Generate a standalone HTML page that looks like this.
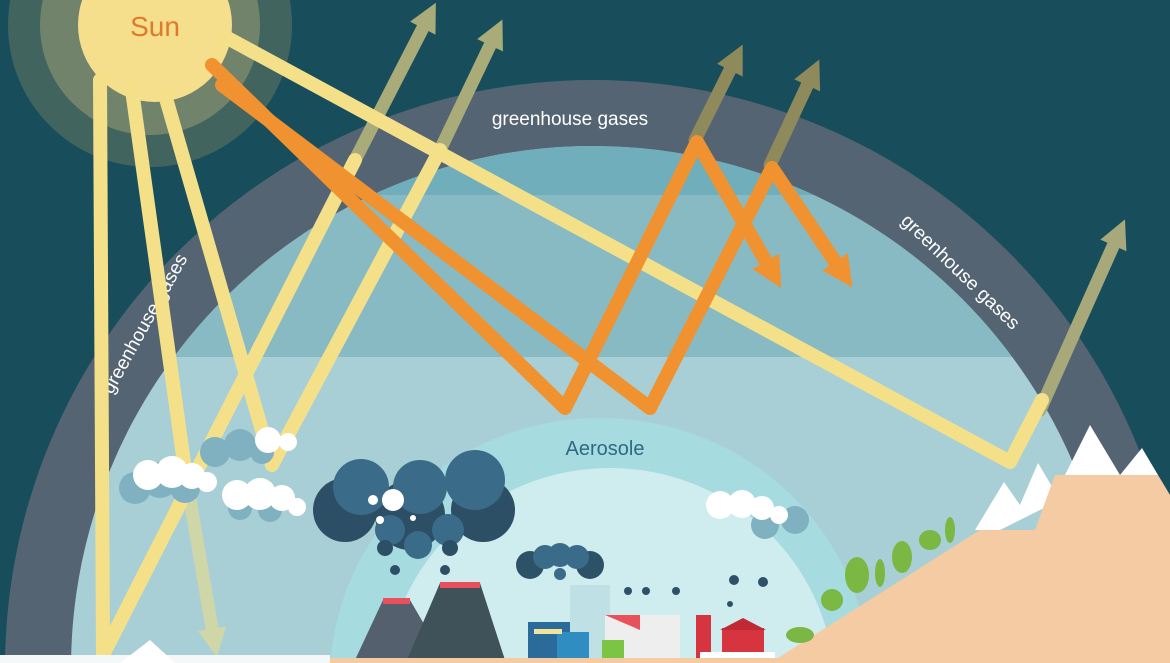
<!DOCTYPE html>
<html><head><meta charset="utf-8"><style>
html,body{margin:0;padding:0;width:1170px;height:663px;overflow:hidden;background:#184e5b}
svg{display:block}
text{font-family:"Liberation Sans",sans-serif}
</style></head><body>
<svg width="1170" height="663" viewBox="0 0 1170 663" xmlns="http://www.w3.org/2000/svg">
<defs>
<clipPath id="inner"><circle cx="593" cy="668" r="522"/></clipPath>
<marker id="ah" viewBox="0 0 10 10" refX="4" refY="5" markerWidth="2.2" markerHeight="2.2" orient="auto"><path d="M0,0L10,5L0,10z" fill="context-stroke"/></marker>
</defs>
<rect width="1170" height="663" fill="#184e5b"/>
<circle cx="593" cy="668" r="588" fill="#546473"/>
<g clip-path="url(#inner)">
<rect x="0" y="0" width="1170" height="663" fill="#a9cfd6"/>
<rect x="0" y="140" width="1170" height="55" fill="#6faeba"/>
<rect x="0" y="195" width="1170" height="162" fill="#88bac4"/>
</g>
<ellipse cx="600" cy="680" rx="270" ry="262" fill="#a6dbe0"/>
<ellipse cx="610" cy="690" rx="225" ry="222" fill="#cfecef"/>
<text x="605" y="455" font-size="20" fill="#2e6a84" text-anchor="middle">Aerosole</text>
<text x="570" y="125" font-size="19" fill="#fff" text-anchor="middle">greenhouse gases</text>
<text transform="translate(112,395) rotate(-61)" font-size="19" fill="#fff">greenhouse gases</text>
<text transform="translate(900,222) rotate(44)" font-size="19" fill="#fff">greenhouse gases</text>

<!-- sun -->
<circle cx="150" cy="25" r="142" fill="#5d7362" opacity="0.6"/>
<circle cx="150" cy="25" r="110" fill="#869270" opacity="0.7"/>
<circle cx="155" cy="25" r="77" fill="#f6df8c"/>
<text x="155" y="36" font-size="28" fill="#e07a2b" text-anchor="middle">Sun</text>

<g fill="none" stroke-linecap="round" stroke-linejoin="round">
<path d="M440,150 L495,35" stroke="#a9ab78" stroke-width="13" marker-end="url(#ah)"/>
<path d="M355,160 L428,18" stroke="#a9ab78" stroke-width="13" marker-end="url(#ah)"/>
<path d="M185,470 L214,640" stroke="#cfd6a8" stroke-width="13" marker-end="url(#ah)"/>
<path d="M695,140 L735,60" stroke="#8f8a5c" stroke-width="13" marker-end="url(#ah)"/>
<path d="M770,165 L812,75" stroke="#8f8a5c" stroke-width="13" marker-end="url(#ah)"/>
<path d="M1040,410 L1118,235" stroke="#a8a97a" stroke-width="13" marker-end="url(#ah)"/>
<path d="M100,80 L103,655 L355,160" stroke="#f5e08a" stroke-width="14"/>
<path d="M132,90 L185,470" stroke="#f5e08a" stroke-width="14"/>
<path d="M165,95 L272,465 L440,150" stroke="#f5e08a" stroke-width="14"/>
<path d="M222,35 L1010,462 L1042,400" stroke="#f5e08a" stroke-width="14"/>
<path d="M212,65 L565,408 L697,142 L772,272" stroke="#f0922f" stroke-width="14" marker-end="url(#ah)"/>
<path d="M222,85 L650,408 L772,168 L842,272" stroke="#f0922f" stroke-width="14" marker-end="url(#ah)"/>
</g>

<g fill="#7fb1c0">
<circle cx="135" cy="488" r="16"/><circle cx="160" cy="480" r="18"/><circle cx="185" cy="488" r="15"/>
<circle cx="215" cy="452" r="15"/><circle cx="240" cy="445" r="16"/><circle cx="262" cy="452" r="12"/>
<circle cx="240" cy="508" r="12"/><circle cx="270" cy="510" r="12"/>
<circle cx="765" cy="525" r="14"/><circle cx="795" cy="520" r="14"/>
</g>
<g fill="#fff">
<circle cx="148" cy="475" r="15"/><circle cx="172" cy="472" r="16"/><circle cx="192" cy="476" r="13"/><circle cx="207" cy="482" r="10"/>
<circle cx="268" cy="440" r="13"/><circle cx="288" cy="442" r="9"/>
<circle cx="237" cy="495" r="15"/><circle cx="260" cy="494" r="16"/><circle cx="282" cy="498" r="13"/><circle cx="297" cy="507" r="9"/>
<circle cx="720" cy="505" r="14"/><circle cx="742" cy="504" r="14"/><circle cx="762" cy="508" r="12"/><circle cx="779" cy="515" r="9"/>
</g>

<g fill="#2d4f65"><circle cx="345" cy="510" r="32"/><circle cx="483" cy="510" r="32"/><circle cx="410" cy="515" r="35"/></g>
<g fill="#3a6b88">
<circle cx="361" cy="487" r="28"/><circle cx="420" cy="487" r="27"/><circle cx="475" cy="480" r="30"/>
<circle cx="390" cy="530" r="15"/><circle cx="448" cy="530" r="16"/><circle cx="418" cy="545" r="14"/>
</g>
<g fill="#2d4f65"><circle cx="395" cy="570" r="5"/><circle cx="445" cy="570" r="5"/><circle cx="385" cy="548" r="8"/><circle cx="450" cy="548" r="8"/></g>
<g fill="#fff"><circle cx="393" cy="500" r="11"/><circle cx="373" cy="500" r="5"/><circle cx="380" cy="520" r="4"/><circle cx="413" cy="518" r="3"/></g>
<polygon points="355,660 383,600 410,600 445,660" fill="#54606e"/>
<polygon points="407,660 440,583 480,583 505,660" fill="#3f5159"/>
<rect x="383" y="598" width="27" height="6" fill="#e8505b"/>
<rect x="440" y="582" width="40" height="6" fill="#e8505b"/>
<g fill="#2d5268"><circle cx="530" cy="565" r="14"/><circle cx="590" cy="565" r="14"/></g>
<g fill="#3a6b88"><circle cx="545" cy="557" r="12"/><circle cx="560" cy="555" r="12"/><circle cx="577" cy="557" r="12"/><circle cx="560" cy="574" r="6"/></g>
<g fill="#2d5268"><circle cx="628" cy="591" r="4"/><circle cx="646" cy="591" r="4"/><circle cx="676" cy="591" r="4"/><circle cx="734" cy="580" r="5"/><circle cx="763" cy="582" r="5"/><circle cx="730" cy="604" r="3"/></g>
<rect x="570" y="585" width="40" height="75" fill="#bfe0e5"/>
<rect x="528" y="622" width="42" height="38" fill="#2a6b9a"/>
<rect x="557" y="632" width="32" height="28" fill="#2f8dc2"/>
<rect x="534" y="629" width="28" height="5" fill="#f2e29a"/>
<rect x="605" y="615" width="75" height="45" fill="#eeeeee"/>
<polygon points="605,615 640,630 640,615" fill="#e8505b"/>
<rect x="602" y="640" width="22" height="20" fill="#7cc444"/>
<rect x="696" y="615" width="15" height="45" fill="#d6343f"/>
<rect x="722" y="628" width="42" height="32" fill="#d6343f"/>
<polygon points="720,630 743,618 766,630" fill="#c02a35"/>
<rect x="700" y="652" width="75" height="8" fill="#fff"/>
<polygon points="975,530 1004,482 1020,505 1038,463 1060,500 1000,530" fill="#fff"/>
<polygon points="1065,475 1090,425 1120,475" fill="#fff"/>
<polygon points="1120,475 1142,448 1158,475" fill="#fff"/>
<polygon points="770,663 980,530 1035,530 1055,475 1158,475 1170,495 1170,663" fill="#f4cba2"/>
<g fill="#7ab843">
<ellipse cx="857" cy="575" rx="12" ry="18"/><ellipse cx="880" cy="573" rx="5" ry="14"/>
<ellipse cx="902" cy="557" rx="10" ry="16"/><ellipse cx="930" cy="540" rx="11" ry="10"/>
<ellipse cx="950" cy="530" rx="5" ry="13"/><circle cx="832" cy="600" r="11"/>
<ellipse cx="800" cy="635" rx="14" ry="8"/>
</g>
<rect x="0" y="655" width="330" height="8" fill="#f4f8f8"/>
<polygon points="120,663 150,640 175,663" fill="#fff"/>
<rect x="330" y="658" width="450" height="5" fill="#f4cba2"/>
</svg>
</body></html>
